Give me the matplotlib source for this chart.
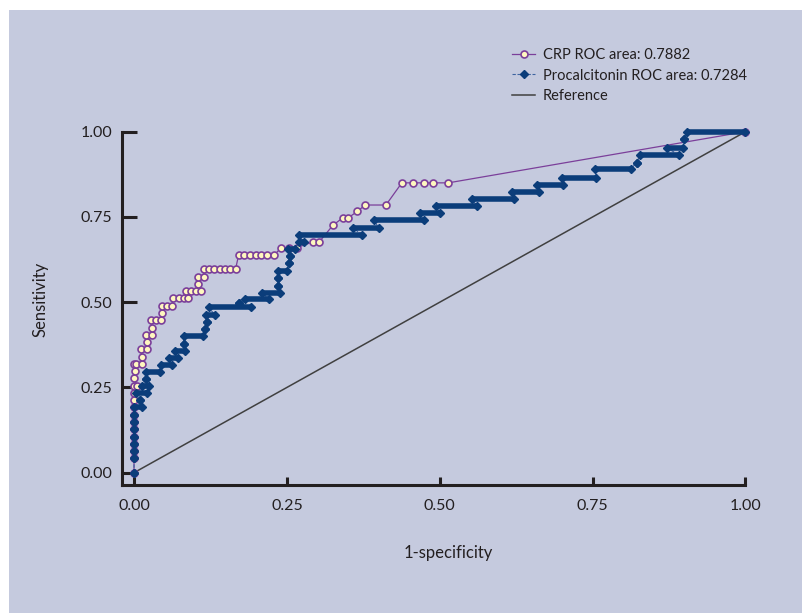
import matplotlib
matplotlib.use("Agg")
import matplotlib.pyplot as plt
from matplotlib.patches import Rectangle

plt.rcParams['font.family'] = ['Lato', 'DejaVu Sans']

# CRP ROC points (1-specificity, sensitivity)
crp_fpr = [0.0, 0.0, 0.0, 0.0, 0.0, 0.0, 0.0, 0.0, 0.0, 0.0, 0.0, 0.0, 0.005,
           0.0, 0.002, 0.0, 0.004, 0.013, 0.013, 0.011, 0.021, 0.021, 0.020, 0.029,
           0.029, 0.027, 0.036, 0.044, 0.045, 0.045, 0.054, 0.062,
           0.064, 0.073, 0.081, 0.088, 0.085, 0.094, 0.101, 0.109, 0.105,
           0.105, 0.114, 0.115, 0.123, 0.131, 0.141, 0.149, 0.157, 0.166,
           0.171, 0.180, 0.190, 0.199, 0.208, 0.218, 0.229,
           0.241, 0.254, 0.266, 0.293, 0.303, 0.325, 0.341, 0.350, 0.365,
           0.378, 0.412, 0.438, 0.456, 0.474, 0.489, 0.514, 1.0]
crp_tpr = [0.0, 0.043, 0.064, 0.085, 0.106, 0.128, 0.149, 0.170, 0.192, 0.213, 0.234, 0.255, 0.255,
           0.277, 0.298, 0.319, 0.319, 0.319, 0.340, 0.362, 0.362, 0.383, 0.404, 0.404,
           0.425, 0.447, 0.447, 0.447, 0.468, 0.489, 0.489, 0.489,
           0.511, 0.511, 0.511, 0.511, 0.532, 0.532, 0.532, 0.532, 0.553,
           0.574, 0.574, 0.596, 0.596, 0.596, 0.596, 0.596, 0.596, 0.596,
           0.638, 0.638, 0.638, 0.638, 0.638, 0.638, 0.638,
           0.660, 0.660, 0.660, 0.677, 0.677, 0.725, 0.747, 0.747, 0.766,
           0.785, 0.785, 0.850, 0.850, 0.850, 0.850, 0.850, 1.0]

# Procalcitonin ROC: runs of points at one sensitivity level (start/end of 1-specificity)
pct_tpr = [0.0, 0.043, 0.064, 0.085, 0.106, 0.128, 0.149, 0.170, 0.192, 0.213,
           0.234, 0.253, 0.275, 0.296, 0.317, 0.337, 0.356, 0.377, 0.400, 0.421,
           0.442, 0.462, 0.485, 0.498, 0.508, 0.528, 0.547, 0.570, 0.591, 0.614,
           0.636, 0.656, 0.677, 0.697, 0.719, 0.741, 0.762, 0.781, 0.803, 0.824,
           0.845, 0.865, 0.890, 0.909, 0.931, 0.953, 0.978, 1.0]
pct_fpr_start = [0.0, 0.0, 0.0, 0.0, 0.0, 0.0, 0.0, 0.0, 0.0, 0.010,
                 0.004, 0.013, 0.020, 0.019, 0.044, 0.057, 0.067, 0.082, 0.081, 0.116,
                 0.120, 0.118, 0.122, 0.172, 0.182, 0.210, 0.236, 0.236, 0.235, 0.253,
                 0.255, 0.2525, 0.269, 0.269, 0.358, 0.392, 0.467, 0.494, 0.553, 0.618,
                 0.659, 0.700, 0.754, 0.822, 0.827, 0.871, 0.900, 0.905]
pct_fpr_end = [0.0, 0.0, 0.0, 0.0, 0.0, 0.0, 0.0, 0.0, 0.013, 0.010,
               0.022, 0.024, 0.020, 0.0425, 0.062, 0.0725, 0.083, 0.082, 0.113, 0.116,
               0.120, 0.1326, 0.191, 0.172, 0.220, 0.239, 0.236, 0.236, 0.250, 0.253,
               0.255, 0.2635, 0.278, 0.3725, 0.400, 0.4735, 0.500, 0.561, 0.622, 0.662,
               0.7016, 0.756, 0.812, 0.822, 0.892, 0.898, 0.900, 1.0]

ticks = [0.0, 0.25, 0.5, 0.75, 1.0]
tick_labels = ["0.00", "0.25", "0.50", "0.75", "1.00"]

crp_label = "CRP ROC area: 0.7882"
pct_label = "Procalcitonin ROC area: 0.7284"

panel = "#C5CADE"
ink = "#231F20"
purple = "#7B3F9A"
navy = "#0B3D7A"

W, H = 803, 613
fig = plt.figure(figsize=(W / 100, H / 100), dpi=100, facecolor="white")
fig.patches.append(Rectangle((9 / W, 0), 1 - 9 / W, 1 - 10 / H,
                             transform=fig.transFigure, facecolor=panel,
                             edgecolor="none", zorder=-10))

left, right, top, bottom = 121.7, 745.5, 131.7, 485.0
ax = fig.add_axes([left / W, (H - bottom) / H, (right - left) / W, (bottom - top) / H])
ax.set_facecolor("none")

# reference diagonal
ax.plot([0, 1], [0, 1], color="#404040", lw=1.1, label="Reference", zorder=2)

# CRP
ax.plot(crp_fpr, crp_tpr, color=purple, lw=0.9, marker="o", ms=5,
        mfc="#FFF7BF", mec=purple, mew=1.2, label=crp_label, clip_on=False, zorder=3)

# Procalcitonin: connect run ends, chain of markers along each run
pct_x, pct_y = [], []
for t, a, b in zip(pct_tpr, pct_fpr_start, pct_fpr_end):
    pct_x += [a, b]
    pct_y += [t, t]
ax.plot(pct_x, pct_y, color="#3E64A0", lw=0.8, ls=(0, (3, 1.5)), marker="D", ms=3.8,
        mfc=navy, mec=navy, label=pct_label, clip_on=False, zorder=4)
runs = ax.hlines(pct_tpr, pct_fpr_start, pct_fpr_end, colors=navy, lw=4.0, zorder=4)
runs.set_capstyle("butt")
runs.set_clip_on(False)

ax.set_xlim(-12.3 / 611, 1.0)
ax.set_ylim(-12.3 / 341, 1.0)
ax.set_xticks(ticks)
ax.set_xticklabels(tick_labels)
ax.set_yticks(ticks)
ax.set_yticklabels(tick_labels)

for side in ["top", "right"]:
    ax.spines[side].set_visible(False)
for side in ["left", "bottom"]:
    ax.spines[side].set_linewidth(2.2)
    ax.spines[side].set_color(ink)

ax.tick_params(axis="y", direction="in", length=10.8, width=2.2, color=ink,
               labelsize=11.5, labelcolor=ink, pad=7)
ax.tick_params(axis="x", direction="in", length=5.8, width=2.2, color=ink,
               labelsize=11.5, labelcolor=ink, pad=10)

ax.set_xlabel("1-specificity", fontsize=12, color=ink, labelpad=23)
ax.set_ylabel("Sensitivity", fontsize=12, color=ink, labelpad=23)
ax.xaxis.label.set_x(0.523)
ax.yaxis.label.set_y(0.524)

handles, labels = ax.get_legend_handles_labels()
order = [1, 2, 0]
fig.legend([handles[i] for i in order], [labels[i] for i in order],
           loc="upper left", bbox_to_anchor=(512 / W, 1 - 48 / H), frameon=False,
           fontsize=10.5, labelcolor=ink, numpoints=1, handlelength=1.6,
           handletextpad=0.5, labelspacing=0.45, borderpad=0, borderaxespad=0)

fig.savefig("out.png", dpi=100, facecolor="white")
